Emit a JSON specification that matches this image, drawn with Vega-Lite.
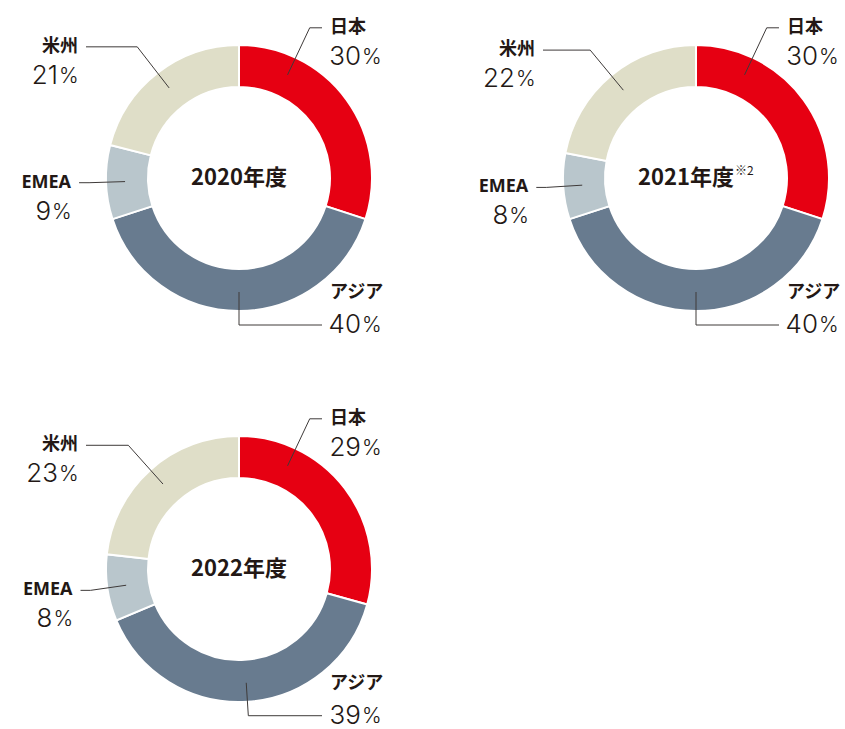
{
  "$schema": "https://vega.github.io/schema/vega-lite/v6.json",
  "background": "white",
  "padding": {"left": 10, "top": 0, "right": 0, "bottom": 0},
  "config": {"view": {"stroke": null}, "font": "Noto Sans CJK JP"},
  "data": {"values": [
    {"year": "2020年度", "region": "日本", "share": 30, "note": ""},
    {"year": "2020年度", "region": "アジア", "share": 40, "note": ""},
    {"year": "2020年度", "region": "EMEA", "share": 9, "note": ""},
    {"year": "2020年度", "region": "米州", "share": 21, "note": ""},
    {"year": "2021年度", "region": "日本", "share": 30, "note": "※2"},
    {"year": "2021年度", "region": "アジア", "share": 40, "note": "※2"},
    {"year": "2021年度", "region": "EMEA", "share": 8, "note": "※2"},
    {"year": "2021年度", "region": "米州", "share": 22, "note": "※2"},
    {"year": "2022年度", "region": "日本", "share": 29, "note": ""},
    {"year": "2022年度", "region": "アジア", "share": 39, "note": ""},
    {"year": "2022年度", "region": "EMEA", "share": 8, "note": ""},
    {"year": "2022年度", "region": "米州", "share": 23, "note": ""}
  ]},
  "transform": [
    {"window": [{"op": "row_number", "as": "idx"}], "groupby": ["year"]},
    {"window": [{"op": "sum", "field": "share", "as": "cum"}], "groupby": ["year"], "sort": [{"field": "idx"}], "frame": [null, 0]},
    {"joinaggregate": [{"op": "sum", "field": "share", "as": "total"}], "groupby": ["year"]},
    {"calculate": "2*PI*(datum.cum - datum.share/2)/datum.total", "as": "a"},
    {"calculate": "abs(sin(datum.a)) > 0.95", "as": "side"},
    {"calculate": "sin(datum.a) >= 0 ? 1 : -1", "as": "dir"},
    {"calculate": "(!datum.side && sin(datum.a) > 0 && cos(datum.a) > 0) ? min(datum.a, 0.44) : datum.a", "as": "aL"},
    {"calculate": "!datum.side && cos(datum.aL) < 0", "as": "lower"},
    {"calculate": "datum.side ? 150 : (datum.lower ? 147 : 166)", "as": "r1"},
    {"calculate": "114*sin(datum.aL)", "as": "sx"},
    {"calculate": "114*cos(datum.aL)", "as": "sy"},
    {"calculate": "datum.r1*sin(datum.aL)", "as": "ex"},
    {"calculate": "datum.r1*cos(datum.aL)", "as": "ey"},
    {"calculate": "datum.dir > 0 ? max(datum.ex + 10, 83) : min(datum.ex - 10, -153)", "as": "hx"},
    {"calculate": "datum.hx + datum.dir*8", "as": "tx"},
    {"calculate": "datum.lower ? datum.ey + 32 : datum.ey", "as": "nameY"},
    {"calculate": "datum.lower ? datum.ey : datum.ey - 29", "as": "pctY"},
    {"calculate": "datum.dir > 0 ? datum.tx + 15.5*length(toString(datum.share)) : datum.tx - 20", "as": "px"}
  ],
  "vconcat": [
    {
      "hconcat": [
        {
          "transform": [{"filter": "datum.year == '2020年度'"}],
          "width": 377, "height": 343,
          "layer": [
            {"mark": {"type": "arc", "outerRadius": 133, "innerRadius": 91, "stroke": "white", "strokeWidth": 2},
             "encoding": {
               "x": {"datum": 0, "type": "quantitative", "scale": {"domain": [-229, 148], "zero": false, "nice": false}, "axis": null},
               "y": {"datum": 0, "type": "quantitative", "scale": {"domain": [-165, 178], "zero": false, "nice": false}, "axis": null},
               "theta": {"field": "share", "type": "quantitative", "stack": "normalize"},
               "order": {"field": "idx", "type": "quantitative"},
               "color": {"field": "region", "type": "nominal", "legend": null, "scale": {"domain": ["日本", "アジア", "EMEA", "米州"], "range": ["#e60012", "#687b8f", "#b9c6cc", "#dfdec8"]}}}},
            {"mark": {"type": "rule", "color": "#3e3a39", "strokeWidth": 1},
             "encoding": {"x": {"field": "sx", "type": "quantitative", "axis": null}, "y": {"field": "sy", "type": "quantitative", "axis": null}, "x2": {"field": "ex"}, "y2": {"field": "ey"}}},
            {"mark": {"type": "rule", "color": "#3e3a39", "strokeWidth": 1},
             "encoding": {"x": {"field": "ex", "type": "quantitative", "axis": null}, "y": {"field": "ey", "type": "quantitative", "axis": null}, "x2": {"field": "hx"}, "y2": {"field": "ey"}}},
            {"transform": [{"filter": "datum.dir > 0"}],
             "mark": {"type": "text", "align": "left", "baseline": "middle", "fontSize": 18, "fontWeight": "bold", "font": "Noto Sans, Noto Sans CJK JP", "color": "#231815"},
             "encoding": {"x": {"field": "tx", "type": "quantitative", "axis": null}, "y": {"field": "nameY", "type": "quantitative", "axis": null}, "text": {"field": "region"}}},
            {"transform": [{"filter": "datum.dir < 0"}],
             "mark": {"type": "text", "align": "right", "baseline": "middle", "fontSize": 18, "fontWeight": "bold", "font": "Noto Sans, Noto Sans CJK JP", "color": "#231815"},
             "encoding": {"x": {"field": "tx", "type": "quantitative", "axis": null}, "y": {"field": "nameY", "type": "quantitative", "axis": null}, "text": {"field": "region"}}},
            {"mark": {"type": "text", "align": "right", "baseline": "middle", "fontSize": 26, "fontWeight": 300, "font": "Inter", "color": "#231815"},
             "encoding": {"x": {"field": "px", "type": "quantitative", "axis": null}, "y": {"field": "pctY", "type": "quantitative", "axis": null}, "text": {"field": "share"}}},
            {"mark": {"type": "text", "text": "%", "align": "left", "baseline": "middle", "dx": 1, "dy": 1, "fontSize": 21, "fontWeight": 300, "font": "Inter", "color": "#231815"},
             "encoding": {"x": {"field": "px", "type": "quantitative", "axis": null}, "y": {"field": "pctY", "type": "quantitative", "axis": null}}},
            {"transform": [{"filter": "datum.idx == 1"}],
             "mark": {"type": "text", "align": "center", "baseline": "middle", "fontSize": 22, "fontWeight": "bold", "color": "#231815"},
             "encoding": {"x": {"datum": 0, "type": "quantitative", "axis": null}, "y": {"datum": 0, "type": "quantitative", "axis": null}, "text": {"field": "year"}}}
          ]
        },
        {
          "transform": [{"filter": "datum.year == '2021年度'"}],
          "width": 377, "height": 343,
          "layer": [
            {"mark": {"type": "arc", "outerRadius": 133, "innerRadius": 91, "stroke": "white", "strokeWidth": 2},
             "encoding": {
               "x": {"datum": 0, "type": "quantitative", "scale": {"domain": [-229, 148], "zero": false, "nice": false}, "axis": null},
               "y": {"datum": 0, "type": "quantitative", "scale": {"domain": [-165, 178], "zero": false, "nice": false}, "axis": null},
               "theta": {"field": "share", "type": "quantitative", "stack": "normalize"},
               "order": {"field": "idx", "type": "quantitative"},
               "color": {"field": "region", "type": "nominal", "legend": null, "scale": {"domain": ["日本", "アジア", "EMEA", "米州"], "range": ["#e60012", "#687b8f", "#b9c6cc", "#dfdec8"]}}}},
            {"mark": {"type": "rule", "color": "#3e3a39", "strokeWidth": 1},
             "encoding": {"x": {"field": "sx", "type": "quantitative", "axis": null}, "y": {"field": "sy", "type": "quantitative", "axis": null}, "x2": {"field": "ex"}, "y2": {"field": "ey"}}},
            {"mark": {"type": "rule", "color": "#3e3a39", "strokeWidth": 1},
             "encoding": {"x": {"field": "ex", "type": "quantitative", "axis": null}, "y": {"field": "ey", "type": "quantitative", "axis": null}, "x2": {"field": "hx"}, "y2": {"field": "ey"}}},
            {"transform": [{"filter": "datum.dir > 0"}],
             "mark": {"type": "text", "align": "left", "baseline": "middle", "fontSize": 18, "fontWeight": "bold", "font": "Noto Sans, Noto Sans CJK JP", "color": "#231815"},
             "encoding": {"x": {"field": "tx", "type": "quantitative", "axis": null}, "y": {"field": "nameY", "type": "quantitative", "axis": null}, "text": {"field": "region"}}},
            {"transform": [{"filter": "datum.dir < 0"}],
             "mark": {"type": "text", "align": "right", "baseline": "middle", "fontSize": 18, "fontWeight": "bold", "font": "Noto Sans, Noto Sans CJK JP", "color": "#231815"},
             "encoding": {"x": {"field": "tx", "type": "quantitative", "axis": null}, "y": {"field": "nameY", "type": "quantitative", "axis": null}, "text": {"field": "region"}}},
            {"mark": {"type": "text", "align": "right", "baseline": "middle", "fontSize": 26, "fontWeight": 300, "font": "Inter", "color": "#231815"},
             "encoding": {"x": {"field": "px", "type": "quantitative", "axis": null}, "y": {"field": "pctY", "type": "quantitative", "axis": null}, "text": {"field": "share"}}},
            {"mark": {"type": "text", "text": "%", "align": "left", "baseline": "middle", "dx": 1, "dy": 1, "fontSize": 21, "fontWeight": 300, "font": "Inter", "color": "#231815"},
             "encoding": {"x": {"field": "px", "type": "quantitative", "axis": null}, "y": {"field": "pctY", "type": "quantitative", "axis": null}}},
            {"transform": [{"filter": "datum.idx == 1"}],
             "mark": {"type": "text", "align": "center", "baseline": "middle", "dx": -10, "fontSize": 22, "fontWeight": "bold", "color": "#231815"},
             "encoding": {"x": {"datum": 0, "type": "quantitative", "axis": null}, "y": {"datum": 0, "type": "quantitative", "axis": null}, "text": {"field": "year"}}},
            {"transform": [{"filter": "datum.idx == 1"}],
             "mark": {"type": "text", "align": "left", "baseline": "middle", "dx": 39, "dy": -7, "fontSize": 12, "color": "#231815"},
             "encoding": {"x": {"datum": 0, "type": "quantitative", "axis": null}, "y": {"datum": 0, "type": "quantitative", "axis": null}, "text": {"field": "note"}}}
          ]
        }
      ],
      "spacing": 80
    },
    {
      "transform": [{"filter": "datum.year == '2022年度'"}],
      "width": 377, "height": 338,
      "layer": [
        {"mark": {"type": "arc", "outerRadius": 133, "innerRadius": 91, "stroke": "white", "strokeWidth": 2},
         "encoding": {
           "x": {"datum": 0, "type": "quantitative", "scale": {"domain": [-229, 148], "zero": false, "nice": false}, "axis": null},
           "y": {"datum": 0, "type": "quantitative", "scale": {"domain": [-160, 178], "zero": false, "nice": false}, "axis": null},
           "theta": {"field": "share", "type": "quantitative", "stack": "normalize"},
           "order": {"field": "idx", "type": "quantitative"},
           "color": {"field": "region", "type": "nominal", "legend": null, "scale": {"domain": ["日本", "アジア", "EMEA", "米州"], "range": ["#e60012", "#687b8f", "#b9c6cc", "#dfdec8"]}}}},
        {"mark": {"type": "rule", "color": "#3e3a39", "strokeWidth": 1},
         "encoding": {"x": {"field": "sx", "type": "quantitative", "axis": null}, "y": {"field": "sy", "type": "quantitative", "axis": null}, "x2": {"field": "ex"}, "y2": {"field": "ey"}}},
        {"mark": {"type": "rule", "color": "#3e3a39", "strokeWidth": 1},
         "encoding": {"x": {"field": "ex", "type": "quantitative", "axis": null}, "y": {"field": "ey", "type": "quantitative", "axis": null}, "x2": {"field": "hx"}, "y2": {"field": "ey"}}},
        {"transform": [{"filter": "datum.dir > 0"}],
         "mark": {"type": "text", "align": "left", "baseline": "middle", "fontSize": 18, "fontWeight": "bold", "font": "Noto Sans, Noto Sans CJK JP", "color": "#231815"},
         "encoding": {"x": {"field": "tx", "type": "quantitative", "axis": null}, "y": {"field": "nameY", "type": "quantitative", "axis": null}, "text": {"field": "region"}}},
        {"transform": [{"filter": "datum.dir < 0"}],
         "mark": {"type": "text", "align": "right", "baseline": "middle", "fontSize": 18, "fontWeight": "bold", "font": "Noto Sans, Noto Sans CJK JP", "color": "#231815"},
         "encoding": {"x": {"field": "tx", "type": "quantitative", "axis": null}, "y": {"field": "nameY", "type": "quantitative", "axis": null}, "text": {"field": "region"}}},
        {"mark": {"type": "text", "align": "right", "baseline": "middle", "fontSize": 26, "fontWeight": 300, "font": "Inter", "color": "#231815"},
         "encoding": {"x": {"field": "px", "type": "quantitative", "axis": null}, "y": {"field": "pctY", "type": "quantitative", "axis": null}, "text": {"field": "share"}}},
        {"mark": {"type": "text", "text": "%", "align": "left", "baseline": "middle", "dx": 1, "dy": 1, "fontSize": 21, "fontWeight": 300, "font": "Inter", "color": "#231815"},
         "encoding": {"x": {"field": "px", "type": "quantitative", "axis": null}, "y": {"field": "pctY", "type": "quantitative", "axis": null}}},
        {"transform": [{"filter": "datum.idx == 1"}],
         "mark": {"type": "text", "align": "center", "baseline": "middle", "fontSize": 22, "fontWeight": "bold", "color": "#231815"},
         "encoding": {"x": {"datum": 0, "type": "quantitative", "axis": null}, "y": {"datum": 0, "type": "quantitative", "axis": null}, "text": {"field": "year"}}}
      ]
    }
  ],
  "spacing": 48
}
